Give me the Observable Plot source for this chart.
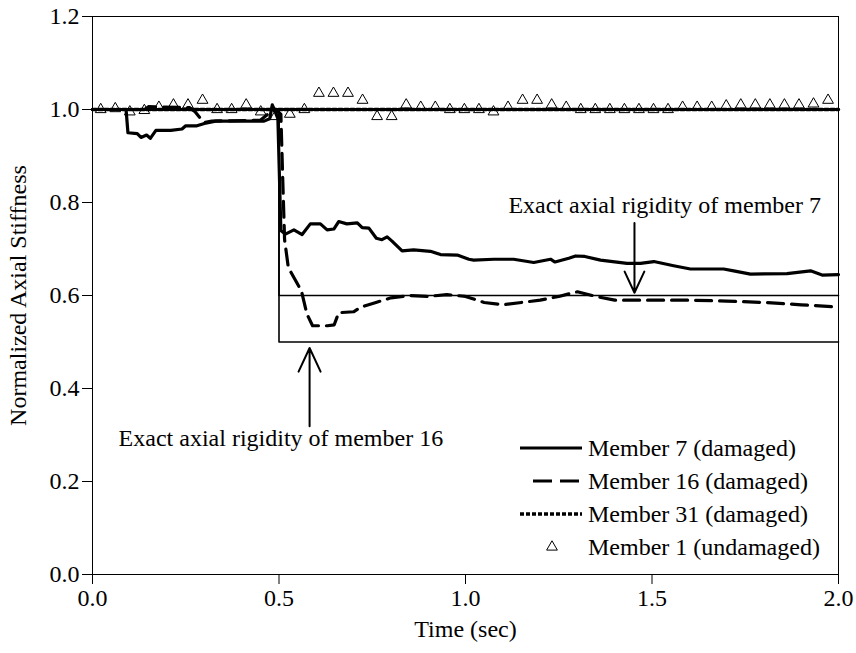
<!DOCTYPE html>
<html>
<head>
<meta charset="utf-8">
<script src="https://cdn.jsdelivr.net/npm/d3@7"></script>
<script src="https://cdn.jsdelivr.net/npm/@observablehq/plot@0.6"></script>
<style>
  html, body { margin: 0; padding: 0; background: #fff; }
  #chart { width: 856px; height: 653px; }
</style>
</head>
<body>
<div id="chart"></div>
<script>
// ---------- data ----------
const xTicks = [0, 0.5, 1.0, 1.5, 2.0];
const yTicks = [0, 0.2, 0.4, 0.6, 0.8, 1.0, 1.2];

const m7T = [0, 0.09, 0.095, 0.12, 0.13, 0.145, 0.155, 0.17, 0.21, 0.24, 0.25, 0.28, 0.30, 0.33, 0.46, 0.475, 0.482, 0.49, 0.497, 0.505, 0.517, 0.54, 0.562, 0.584, 0.611, 0.629, 0.647, 0.66, 0.682, 0.71, 0.723, 0.741, 0.761, 0.776, 0.79, 0.803, 0.83, 0.861, 0.906, 0.933, 0.978, 1.009, 1.022, 1.076, 1.129, 1.183, 1.228, 1.24, 1.277, 1.295, 1.32, 1.362, 1.433, 1.469, 1.505, 1.558, 1.603, 1.692, 1.719, 1.764, 1.862, 1.925, 1.956, 2.0];
const m7V = [1.0, 1.0, 0.95, 0.948, 0.94, 0.945, 0.938, 0.955, 0.955, 0.958, 0.965, 0.965, 0.97, 0.975, 0.975, 0.98, 1.01, 0.995, 0.98, 0.74, 0.732, 0.741, 0.731, 0.754, 0.754, 0.741, 0.743, 0.759, 0.754, 0.756, 0.746, 0.745, 0.723, 0.72, 0.726, 0.717, 0.696, 0.698, 0.695, 0.688, 0.687, 0.678, 0.676, 0.678, 0.678, 0.671, 0.678, 0.672, 0.68, 0.685, 0.684, 0.676, 0.669, 0.669, 0.673, 0.664, 0.657, 0.657, 0.653, 0.646, 0.647, 0.653, 0.644, 0.645];

const m16T = [0, 0.14, 0.15, 0.26, 0.275, 0.29, 0.30, 0.32, 0.45, 0.47, 0.49, 0.505, 0.51, 0.515, 0.525, 0.56, 0.575, 0.59, 0.63, 0.648, 0.66, 0.70, 0.72, 0.76, 0.80, 0.85, 0.90, 0.95, 1.00, 1.05, 1.10, 1.15, 1.20, 1.25, 1.30, 1.35, 1.40, 1.50, 1.60, 1.70, 1.80, 1.90, 2.0];
const m16V = [1.0, 1.0, 1.006, 1.004, 0.995, 0.98, 0.972, 0.975, 0.977, 0.99, 1.0, 0.99, 0.85, 0.72, 0.66, 0.61, 0.56, 0.535, 0.535, 0.537, 0.563, 0.565, 0.575, 0.585, 0.595, 0.60, 0.598, 0.602, 0.598, 0.585, 0.58, 0.585, 0.59, 0.598, 0.608, 0.598, 0.59, 0.59, 0.59, 0.588, 0.585, 0.58, 0.575];

const m31T = [0, 0.25, 0.5, 0.75, 1.0, 1.25, 1.5, 1.75, 2.0];
const m31V = [1.0, 1.0, 1.0, 1.0, 1.0, 1.0, 1.0, 1.0, 1.0];

const m1T = [0.022, 0.061, 0.100, 0.139, 0.178, 0.217, 0.256, 0.295, 0.334, 0.373, 0.412, 0.451, 0.490, 0.529, 0.568, 0.607, 0.646, 0.685, 0.724, 0.763, 0.802, 0.841, 0.880, 0.919, 0.958, 0.997, 1.036, 1.075, 1.114, 1.153, 1.192, 1.231, 1.270, 1.309, 1.348, 1.387, 1.426, 1.465, 1.504, 1.543, 1.582, 1.621, 1.660, 1.699, 1.738, 1.777, 1.816, 1.855, 1.894, 1.933, 1.972];
const m1V = [1.0, 1.002, 0.995, 0.998, 1.005, 1.01, 1.01, 1.02, 1.0, 1.0, 1.01, 0.995, 0.985, 0.99, 1.0, 1.035, 1.035, 1.035, 1.02, 0.985, 0.985, 1.01, 1.005, 1.005, 1.0, 1.0, 1.0, 0.995, 1.005, 1.02, 1.02, 1.01, 1.005, 1.0, 1.0, 1.0, 1.0, 1.0, 1.0, 1.0, 1.005, 1.005, 1.005, 1.008, 1.01, 1.01, 1.01, 1.01, 1.01, 1.012, 1.02];

const exact7T = [0, 0.5, 0.5, 2.0];
const exact7V = [1.0, 1.0, 0.6, 0.6];
const exact16T = [0, 0.5, 0.5, 2.0];
const exact16V = [1.0, 1.0, 0.5, 0.5];

const noteText = ["Exact axial rigidity of member 7", "Exact axial rigidity of member 16"];
const noteX = [1.115, 0.07];
const noteY = [0.793, 0.293];
const arrowX = [1.453, 0.582];
const arrowY1 = [0.756, 0.319];
const arrowY2 = [0.606, 0.487];

const legendLabels = ["Member 7 (damaged)", "Member 16 (damaged)", "Member 31 (damaged)", "Member 1 (undamaged)"];

// ---------- build ----------
const zip = (t, v) => t.map((d, i) => ({t: d, v: v[i]}));
const notes = noteText.map((s, i) => ({s, x: noteX[i], y: noteY[i]}));
const arrows = arrowX.map((x, i) => ({x, y1: arrowY1[i], y2: arrowY2[i]}));
const FONT = "'Liberation Serif', 'Times New Roman', serif";

const chart = Plot.plot({
  width: 856,
  height: 653,
  marginLeft: 92,
  marginRight: 18,
  marginTop: 16,
  marginBottom: 79,
  style: {fontFamily: FONT, fontSize: "24px", background: "#fff", color: "#000"},
  x: {domain: [0, 2]},
  y: {domain: [0, 1.2]},
  marks: [
    Plot.axisX({ticks: xTicks, tickFormat: d => d.toFixed(1), tickSize: 10, tickPadding: 4, fontSize: 24,
      label: "Time (sec)", labelAnchor: "center", labelArrow: "none", labelOffset: 62}),
    Plot.axisY({ticks: yTicks, tickFormat: d => d.toFixed(1), tickSize: 10, tickPadding: 3, fontSize: 24,
      label: "Normalized Axial Stiffness", labelAnchor: "center", labelArrow: "none", labelOffset: 84}),
    Plot.line(zip(exact7T, exact7V), {x: "t", y: "v", stroke: "#000", strokeWidth: 1.6}),
    Plot.line(zip(exact16T, exact16V), {x: "t", y: "v", stroke: "#000", strokeWidth: 1.6}),
    Plot.line(zip(m31T, m31V), {x: "t", y: "v", stroke: "#000", strokeWidth: 3.5, strokeDasharray: "4,2"}),
    Plot.line(zip(m16T, m16V), {x: "t", y: "v", stroke: "#000", strokeWidth: 3.2, strokeDasharray: "16,8"}),
    Plot.line(zip(m7T, m7V), {x: "t", y: "v", stroke: "#000", strokeWidth: 3.2}),
    Plot.dot(zip(m1T, m1V), {x: "t", y: "v", symbol: "triangle", r: 4, stroke: "#000", strokeWidth: 1, fill: "none"}),
    Plot.text(notes, {x: "x", y: "y", text: "s", textAnchor: "start", fontSize: 24, fill: "#000"}),
    Plot.arrow(arrows, {x1: "x", y1: "y1", x2: "x", y2: "y2", stroke: "#000", strokeWidth: 2, headLength: 20, headAngle: 50}),
    Plot.frame({stroke: "#000", strokeWidth: 1})
  ]
});
document.getElementById("chart").appendChild(chart);

// legend drawn inside the SVG
const svg = d3.select(chart);
const lg = svg.append("g")
  .attr("font-family", FONT)
  .attr("font-size", 24)
  .attr("text-anchor", "start");
const rowY = [448, 481, 514, 547];
const kinds = ["solid", "dash", "dot", "tri"];
legendLabels.forEach((lab, i) => {
  const y = rowY[i];
  const k = kinds[i];
  if (k === "solid") {
    lg.append("line").attr("x1", 520).attr("x2", 582).attr("y1", y).attr("y2", y).attr("stroke", "#000").attr("stroke-width", 3.2);
  } else if (k === "dash") {
    lg.append("line").attr("x1", 533).attr("x2", 582).attr("y1", y).attr("y2", y).attr("stroke", "#000").attr("stroke-width", 3.2).attr("stroke-dasharray", "19,8");
  } else if (k === "dot") {
    lg.append("line").attr("x1", 520).attr("x2", 582).attr("y1", y).attr("y2", y).attr("stroke", "#000").attr("stroke-width", 3.5).attr("stroke-dasharray", "4,2");
  } else {
    lg.append("path").attr("d", d3.symbol(d3.symbolTriangle, 50)()).attr("transform", `translate(552,${y})`).attr("fill", "none").attr("stroke", "#000").attr("stroke-width", 1);
  }
  lg.append("text").attr("x", 588).attr("y", y).attr("dy", "0.33em").attr("text-anchor", "start").attr("fill", "#000").text(lab);
});
</script>
</body>
</html>
